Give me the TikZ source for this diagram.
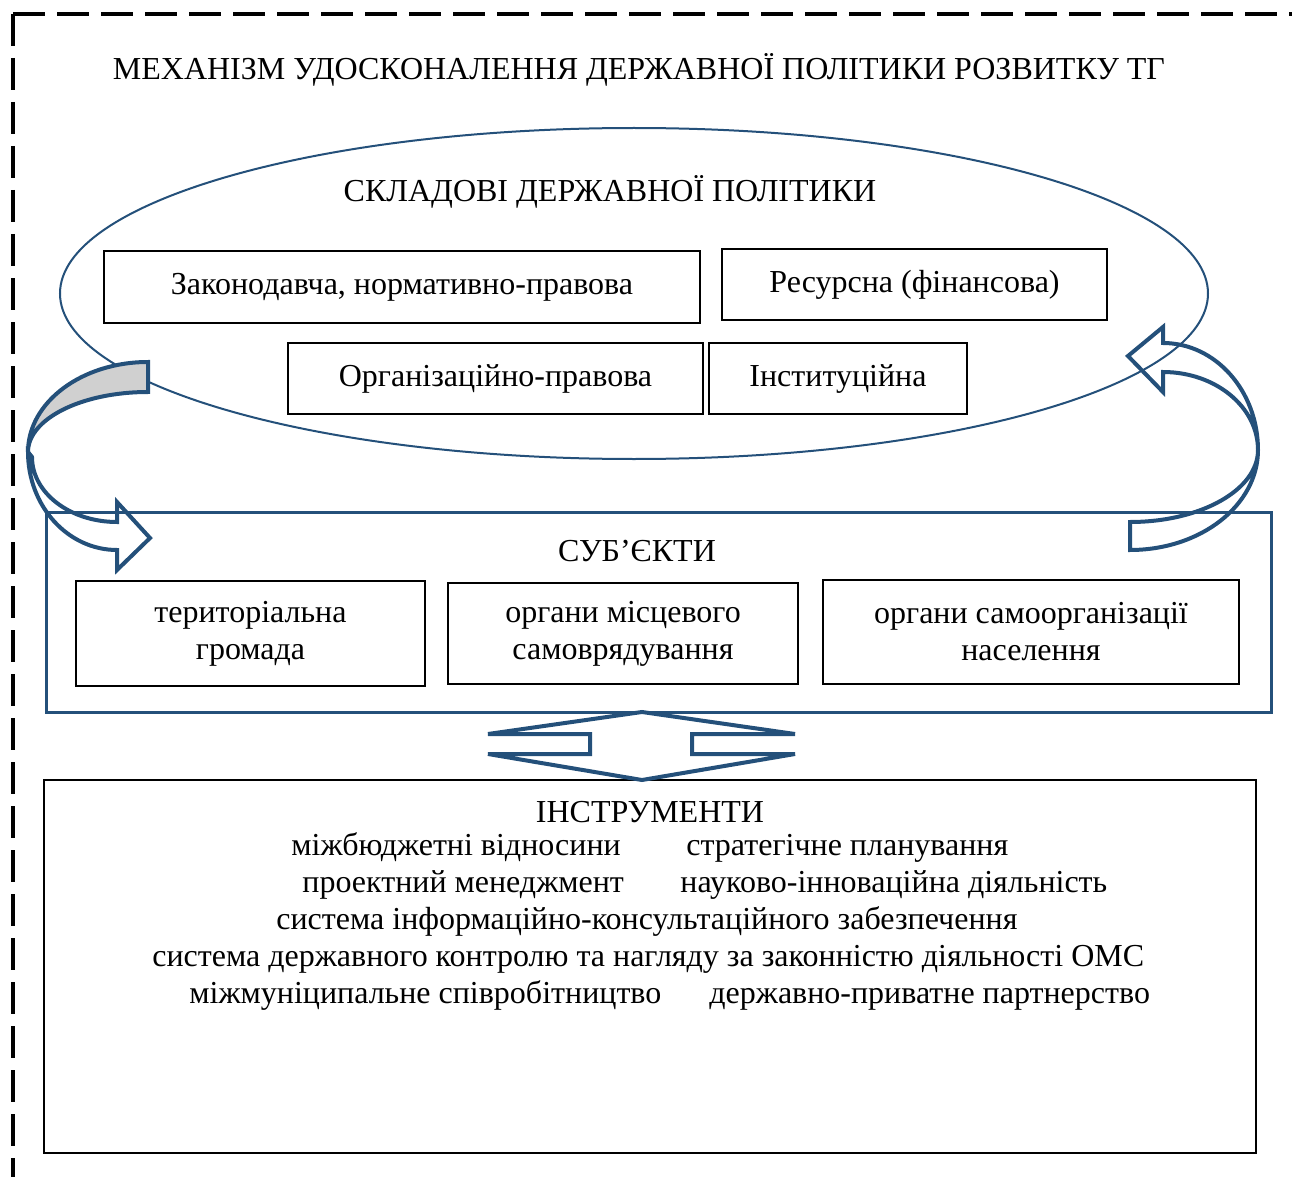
\documentclass[tikz,border=0pt]{standalone}
\usepackage{fontspec}
\setmainfont{Liberation Serif}
\usepackage{tikz}
\usetikzlibrary{positioning,calc,shapes.geometric}
\definecolor{SchemeBlue}{HTML}{24507A}
\definecolor{SchemeGray}{HTML}{D0D0D0}

\begin{document}
\begin{tikzpicture}[
        x=0.5pt, y=-0.5pt,
        frame/.style={draw=black, line width=2pt, dash pattern=on 16pt off 6pt},
        heading/.style={anchor=base, inner sep=0pt, font=\fontsize{16}{18.5}\selectfont},
        part/.style={
            draw=black,
            line width=1pt,
            align=center,
            inner sep=2pt,
            font=\fontsize{16}{18.5}\selectfont
        },
        tool/.style={anchor=base west, inner sep=0pt, font=\fontsize{16}{18.5}\selectfont},
        bluebox/.style={draw=SchemeBlue, line width=1.5pt, inner sep=0pt},
        blockarrow/.style={draw=SchemeBlue, line width=2pt, line join=miter}
    ]
        \useasboundingbox (0,0) rectangle (1292,1177);

        % outer frame
        \draw[frame] (13,14) -- (1292,14);
        \draw[frame] (13,14) -- (13,1177);
        \node[heading] (title) at (639,80) {МЕХАНІЗМ УДОСКОНАЛЕННЯ ДЕРЖАВНОЇ ПОЛІТИКИ РОЗВИТКУ ТГ};

        % components of the policy
        \node[ellipse, draw=SchemeBlue, line width=1pt, minimum width=574pt, minimum height=165.5pt, inner sep=0pt] (comp) at (634,293.5) {};
        \node[heading] (comptitle) at (610,202) {СКЛАДОВІ ДЕРЖАВНОЇ ПОЛІТИКИ};
        \node[part, minimum width=298pt, minimum height=36pt] (law) at (402,287) {Законодавча, нормативно-правова};
        \node[part, minimum width=192.5pt, minimum height=35.5pt] (res) at (914.5,284.5) {Ресурсна (фінансова)};
        \node[part, minimum width=207.5pt, minimum height=35.5pt] (org) at (495.5,378.5) {Організаційно-правова};
        \node[part, minimum width=129pt, minimum height=35.5pt] (inst) at (838,378.5) {Інституційна};

        % subjects
        \node[bluebox, minimum width=612.5pt, minimum height=100pt] (subj) at (658.5,612) {};
        \node[heading] (subjtitle) at (637,561) {СУБ’ЄКТИ};
        \node[part, minimum width=174.5pt, minimum height=52.5pt] (terr) at (250.5,633.5) {територіальна\\громада};
        \node[part, minimum width=175pt, minimum height=50.5pt] (oms) at (623,633.5) {органи місцевого\\самоврядування};
        \node[part, minimum width=208pt, minimum height=52pt] (sso) at (1031,632) {органи самоорганізації\\населення};

        % instruments
        \node[part, minimum width=606pt, minimum height=186.5pt] (tools) at (650,966.5) {};
        \node[heading] (toolstitle) at (650,822) {ІНСТРУМЕНТИ};
        \node[tool] (t1) at (291,855) {міжбюджетні відносини};
        \node[tool] (t2) at (686,855) {стратегічне планування};
        \node[tool] (t3) at (302,892) {проектний менеджмент};
        \node[tool] (t4) at (680,892) {науково-інноваційна діяльність};
        \node[tool] (t5) at (276,929) {система інформаційно-консультаційного забезпечення};
        \node[tool] (t6) at (152,966) {система державного контролю та нагляду за законністю діяльності ОМС};
        \node[tool] (t7) at (189,1003) {міжмуніципальне співробітництво};
        \node[tool] (t8) at (709,1003) {державно-приватне партнерство};

        % link subjects <-> instruments
        \coordinate (dtop) at (642,712);
        \coordinate (dbot) at (642,780);
        \draw[blockarrow, fill=white] (dtop) -- ++(-154,22) -- ++(102,0) -- ++(0,20) -- ++(-102,0)
            -- (dbot) -- ++(153,-26) -- ++(-103,0) -- ++(0,-20) -- ++(103,0) -- cycle;

        % curved arrow: components -> subjects
        \draw[blockarrow, fill=SchemeGray] (148,362) arc[start angle=270, end angle=180, x radius=120, y radius=90]
            arc[start angle=180, end angle=270, x radius=120, y radius=60] -- cycle;
        \draw[blockarrow] (28,452) arc[start angle=180, end angle=90, x radius=89, y radius=98]
            -- (117,570) -- (150,538) -- (117,502) -- (117,522)
            arc[start angle=90, end angle=180, x radius=85, y radius=65] -- cycle;

        % curved arrow: subjects -> components
        \draw[blockarrow] (1130,550) arc[start angle=90, end angle=0, x radius=128, y radius=100]
            arc[start angle=0, end angle=-90, x radius=95, y radius=107]
            -- (1163,327) -- (1128,356) -- (1163,392) -- (1163,372)
            arc[start angle=-90, end angle=0, x radius=95, y radius=78]
            arc[start angle=0, end angle=90, x radius=128, y radius=72] -- cycle;
    \end{tikzpicture}
\end{document}
